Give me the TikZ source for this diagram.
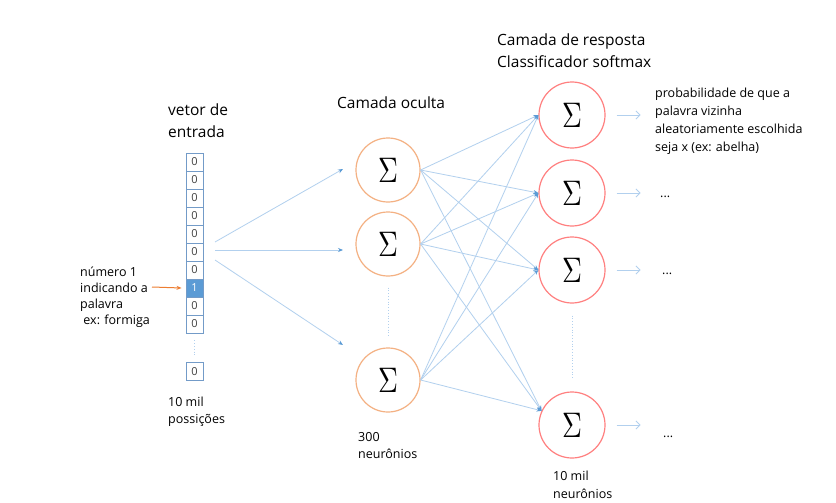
\documentclass[tikz,border=0pt]{standalone}
\usepackage{fontspec}
\setmainfont{Open Sans}
\usetikzlibrary{arrows.meta}
\definecolor{lnk}{RGB}{178,208,238}
\definecolor{tipc}{RGB}{91,155,213}
\definecolor{hidc}{RGB}{244,177,131}
\definecolor{outc}{RGB}{255,128,128}
\definecolor{cellb}{RGB}{115,155,200}
\definecolor{cellf}{RGB}{91,155,213}
\definecolor{orgc}{RGB}{237,125,49}
\newcommand\sigmabox{\scalebox{2.75}[3.55]{$\Sigma$}}
\begin{document}
\begin{tikzpicture}[x=1pt,y=-1pt,
  hidden/.style={circle,draw=hidc,line width=1.2pt,minimum size=64pt,inner sep=0pt},
  outn/.style={circle,draw=outc,line width=1.2pt,minimum size=66pt,inner sep=0pt},
  cell/.style={draw=cellb,line width=0.9pt,minimum width=17pt,minimum height=18pt,inner sep=0pt,font=\fontsize{11}{11}\selectfont,text=black!75},
  hot/.style={fill=cellf,text=white},
  link/.style={draw=lnk,line width=0.8pt,-{Stealth[length=5pt,width=4pt,color=tipc]}},
  outarrow/.style={draw=lnk,line width=0.9pt,-{Straight Barb[length=4pt,width=8pt]}},
  dotline/.style={draw=lnk,line width=0.8pt,dotted},
  head/.style={font=\fontsize{15.5}{21}\selectfont,align=left,inner sep=0pt,anchor=base west},
  small/.style={font=\fontsize{12.5}{16.5}\selectfont,align=left,inner sep=0pt,anchor=base west},
]
\useasboundingbox (0,0) rectangle (836,503);
\fill[white] (0,0) rectangle (836,503);

% input vector
\foreach \i in {0,...,9}{%
  \ifnum\i=7
    \node[cell,hot] (c\i) at (194.5,{162+18*\i}) {1};
  \else
    \node[cell] (c\i) at (194.5,{162+18*\i}) {0};
  \fi
}
\node[cell] (cl) at (194.5,371.5) {0};
\draw[dotline] ([yshift=-7pt]c9.south) -- ([yshift=7pt]cl.north);

% hidden layer
\node[hidden] (h1) at (388,170) {\sigmabox};
\node[hidden] (h2) at (388,244) {\sigmabox};
\node[hidden] (h3) at (388,380) {\sigmabox};
\draw[dotline] ([yshift=-11pt]h2.south) -- ([yshift=11pt]h3.north);

% output layer
\node[outn] (o1) at (572,115) {\sigmabox};
\node[outn] (o2) at (572,193) {\sigmabox};
\node[outn] (o3) at (572,270) {\sigmabox};
\node[outn] (o4) at (572,425) {\sigmabox};
\draw[dotline] ([yshift=-12pt]o3.south) -- ([yshift=12pt]o4.north);

% input -> hidden
\coordinate (s1) at (215,242);
\coordinate (s2) at (215,250);
\coordinate (s3) at (215,260);
\coordinate (e1) at (343,169);
\coordinate (e2) at (343,250);
\coordinate (e3) at (343,345);
\draw[link] (s1) -- (e1);
\draw[link] (s2) -- (e2);
\draw[link] (s3) -- (e3);

% hidden -> output
\foreach \h in {1,2,3}{%
  \foreach \o in {1,2,3}{%
    \draw[link] (h\h.east) -- (o\o.west);
  }
  \draw[link] (h\h.east) -- (o4.155);
}

% output arrows
\foreach \o in {1,2,3,4}{%
  \draw[outarrow] ([xshift=11pt]o\o.east) -- ++(24,0);
}

% orange pointer
\coordinate (oa) at (152,287);
\draw[orgc,line width=1pt,-{Stealth[length=5pt,width=4pt]}] (oa) -- ([xshift=-4pt]c7.west);

% labels (base anchor = baseline of last line)
\node[head] (tvec) at (168,137) {vetor de\\entrada};
\node[head] (thid) at (337,109) {Camada oculta};
\node[head] (tout) at (497,67) {Camada de resposta\\Classificador softmax};
\node[small,font=\fontsize{12.5}{18}\selectfont] (tprob) at (655,151) {probabilidade de que a\\palavra vizinha\\aleatoriamente escolhida\\seja x (ex: abelha)};
\node[small] (d2) at (660,197) {...};
\node[small] (d3) at (662,274) {...};
\node[small] (d4) at (663,437) {...};
\node[small,font=\fontsize{12.5}{15.8}\selectfont] (tnum) at (80,324) {número 1\\indicando a\\palavra\\\ ex: formiga};
\node[small] (tpos) at (168,423) {10 mil\\possições};
\node[small] (t300) at (358,458) {300\\neurônios};
\node[small,font=\fontsize{12.5}{18}\selectfont] (tneu) at (553,498) {10 mil\\neurônios};
\end{tikzpicture}
\end{document}
